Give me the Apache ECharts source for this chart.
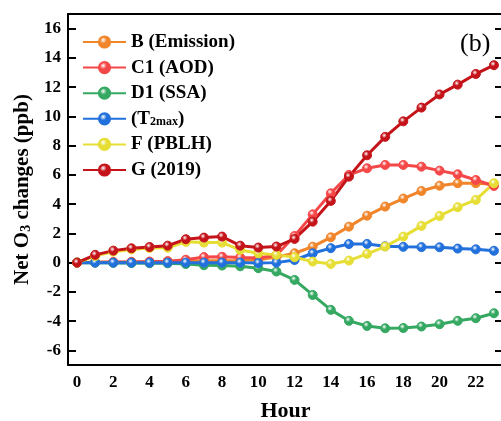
<!DOCTYPE html>
<html><head><meta charset="utf-8">
<script src="https://cdn.jsdelivr.net/npm/echarts@6/dist/echarts.min.js"></script>
<style>html,body{margin:0;padding:0;background:#fff}#c{width:501px;height:421px}</style>
</head><body><div id="c"></div>
<script>
const hours = ['0','1','2','3','4','5','6','7','8','9','10','11','12','13','14','15','16','17','18','19','20','21','22','23'];
const seriesNames = ['B (Emission)','C1 (AOD)','D1 (SSA)','(T2max)','F (PBLH)','G (2019)'];
const B  = [0,0.02,0.03,0.05,0.06,0.08,0.1,0.12,0.13,0.15,0.2,0.38,0.64,1.09,1.73,2.46,3.21,3.83,4.38,4.9,5.26,5.43,5.43,5.36];
const C1 = [0,0.02,0.04,0.05,0.07,0.1,0.2,0.38,0.4,0.35,0.32,0.5,1.82,3.3,4.74,6.0,6.45,6.68,6.68,6.56,6.29,6.04,5.65,5.24];
const D1 = [0,0,-0.02,-0.03,-0.04,-0.05,-0.1,-0.18,-0.2,-0.25,-0.38,-0.61,-1.18,-2.21,-3.23,-3.98,-4.33,-4.49,-4.47,-4.37,-4.21,-3.98,-3.8,-3.46];
const T2 = [0,0,0,0,0,0,0,0,0,0,-0.03,0,0.18,0.64,0.99,1.27,1.28,1.12,1.08,1.06,1.05,0.96,0.91,0.81];
const F  = [0,0.45,0.75,0.9,1.0,1.02,1.42,1.37,1.37,0.87,0.64,0.53,0.37,0.07,-0.09,0.14,0.6,1.1,1.78,2.51,3.19,3.79,4.29,5.43];
const G  = [0,0.53,0.82,0.98,1.07,1.16,1.6,1.71,1.78,1.16,1.03,1.1,1.62,2.8,4.22,5.88,7.34,8.6,9.66,10.6,11.5,12.17,12.9,13.5];
const yTicksMajor = [-6,-4,-2,0,2,4,6,8,10,12,14,16];

const colors = ['#F0852A','#F44848','#35A862','#2170DC','#E6DE34','#C4141A'];
const dataSets = [B,C1,D1,T2,F,G];
const FONT = 'Liberation Serif';

function ball(c){
  return {type:'radial',x:0.4,y:0.35,r:0.75,colorStops:[
    {offset:0,color:'#ffffff'},{offset:0.35,color:c},{offset:1,color:c}]};
}

const chart = echarts.init(document.getElementById('c'));
const G0 = {left:68, top:14, width:435, height:351, outerBoundsMode:'none', containLabel:false};
const unit = 351/24;
const G1 = {left:68, top:14+unit, width:435, height:22*unit, outerBoundsMode:'none', containLabel:false};

const series = seriesNames.map((n,i)=>({
  name:n, type:'line', data:dataSets[i], xAxisIndex:0, yAxisIndex:0,
  symbol:'circle', symbolSize:9, showSymbol:true,
  lineStyle:{color:colors[i], width:3},
  itemStyle:{color:ball(colors[i]), borderColor:colors[i], borderWidth:1},
  emphasis:{disabled:true}, animation:false
}));

chart.setOption({
  animation:false,
  grid:[G0, G1],
  xAxis:[
    {type:'category', gridIndex:0, data:hours, boundaryGap:true, position:'bottom',
     axisLine:{onZero:false, lineStyle:{color:'#000',width:2}},
     axisTick:{inside:true, alignWithLabel:true, interval:0, length:5, lineStyle:{color:'#000',width:2}},
     axisLabel:{interval:1, color:'#000', fontFamily:FONT, fontWeight:'bold', fontSize:17, margin:9},
     name:'Hour', nameLocation:'middle', nameGap:35,
     nameTextStyle:{color:'#000', fontFamily:FONT, fontWeight:'bold', fontSize:22},
     splitLine:{show:false}},
    {type:'category', gridIndex:0, data:hours, boundaryGap:true, position:'top',
     axisLine:{onZero:false, lineStyle:{color:'#000',width:2}},
     axisTick:{inside:true, alignWithLabel:true, interval:0, length:5, lineStyle:{color:'#000',width:2}},
     axisLabel:{show:false}, splitLine:{show:false}},
    {type:'category', gridIndex:1, data:hours, show:false}
  ],
  yAxis:[
    {type:'value', gridIndex:0, min:-7, max:17, interval:1, position:'left',
     axisLine:{show:true, onZero:false, lineStyle:{color:'#000',width:2}},
     axisTick:{inside:true, length:4, lineStyle:{color:'#000',width:2}},
     axisLabel:{color:'#000', fontFamily:FONT, fontWeight:'bold', fontSize:17, margin:7,
       formatter:v=> (yTicksMajor.indexOf(v)>=0 ? String(v) : '')},
     splitLine:{show:false},
     name:'Net O{sub|3} changes (ppb)', nameLocation:'middle', nameGap:34, nameRotate:90,
     nameTextStyle:{color:'#000', fontFamily:FONT, fontWeight:'bold', fontSize:21,
       rich:{sub:{fontFamily:FONT, fontWeight:'bold', fontSize:14, verticalAlign:'bottom', color:'#000'}}}},
    {type:'value', gridIndex:0, min:-7, max:17, interval:1, position:'right',
     axisLine:{show:true, onZero:false, lineStyle:{color:'#000',width:2}},
     axisTick:{inside:true, length:4, lineStyle:{color:'#000',width:2}},
     axisLabel:{show:false}, splitLine:{show:false}},
    {type:'value', gridIndex:1, min:-6, max:16, interval:2, position:'left',
     axisLine:{show:false},
     axisTick:{show:true, inside:true, length:8, lineStyle:{color:'#000',width:2}},
     axisLabel:{show:false}, splitLine:{show:false}},
    {type:'value', gridIndex:1, min:-6, max:16, interval:2, position:'right',
     axisLine:{show:false},
     axisTick:{show:true, inside:true, length:8, lineStyle:{color:'#000',width:2}},
     axisLabel:{show:false}, splitLine:{show:false}}
  ],
  legend:{
    orient:'vertical', left:77, top:27.5, itemWidth:43, itemHeight:14, itemGap:6.6,
    data:seriesNames,
    textStyle:{color:'#000', fontFamily:FONT, fontWeight:'bold', fontSize:19,
      rich:{sub:{fontFamily:FONT, fontWeight:'bold', fontSize:12, verticalAlign:'bottom', color:'#000'}}},
    formatter:n=> n==='(T2max)' ? '(T{sub|2max})' : n
  },
  graphic:[{type:'text', left:460, top:31, style:{text:'(b)', fontFamily:FONT, fontSize:26, fill:'#000'}}],
  series:series
});
</script></body></html>
